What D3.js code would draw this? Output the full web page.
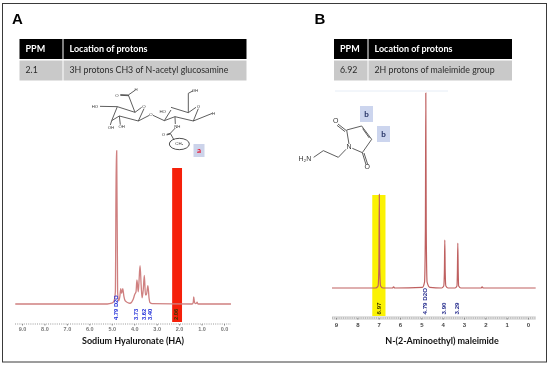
<!DOCTYPE html>
<html>
<head>
<meta charset="utf-8">
<script src="https://cdn.jsdelivr.net/npm/d3@7"></script>
<style>
  html, body { margin: 0; padding: 0; background: #fff; }
  svg { display: block; font-family: Lato, "Open Sans", sans-serif; filter: blur(0.3px); }
</style>
</head>
<body>
<div id="chart"></div>
<script>
// values
var hyaPpm = [9.3, 5.2, 5.0, 4.9, 4.84, 4.8, 4.78, 4.74, 4.7, 4.64, 4.6, 4.56, 4.51, 4.46, 4.4, 4.3, 4.19, 4.05, 3.97, 3.92, 3.88, 3.82, 3.79, 3.74, 3.69, 3.65, 3.6, 3.55, 3.5, 3.46, 3.39, 3.34, 3.3, 3.2, 1.42, 1.37, 1.35, 1.32, 1.27, 1.23, 1.2, 1.16, -0.31];
var hyaIntensity = [0, 0, 0.5, 2, 8, 100, 100, 8, 2, 5, 10, 7, 10, 5, 2, 1, 0.5, 3, 6.5, 8, 15.7, 8, 14, 25, 12, 4, 9, 18.7, 6, 6, 12, 4, 1, 0.3, 0, 1, 4.6, 1.5, 0.3, 0.5, 1.2, 0, 0];
var hyaTicks = [9, 8, 7, 6, 5, 4, 3, 2, 1, 0];
var hyaPeaks = ["4.79 D2O", "3.73", "3.62", "3.40"];
var hyaPeakPpm = [4.79, 3.91, 3.56, 3.28];

var malPpm = [9.19, 7.15, 7.03, 6.99, 6.97, 6.95, 6.91, 6.8, 6.35, 6.3, 6.25, 4.95, 4.85, 4.81, 4.79, 4.77, 4.73, 4.6, 4.05, 3.95, 3.92, 3.9, 3.88, 3.85, 3.75, 3.42, 3.33, 3.31, 3.29, 3.27, 3.25, 3.15, 2.2, 2.15, 2.1, -0.36];
var malIntensity = [0, 0, 1, 10, 48, 10, 1, 0, 0, 0.6, 0, 0.3, 3, 30, 100, 30, 3, 0.3, 0, 1, 8, 24.6, 8, 1, 0, 0, 1, 8, 23, 8, 1, 0, 0, 0.6, 0, 0];
var malTicks = [9, 8, 7, 6, 5, 4, 3, 2, 1, 0];
var malPeaks = ["6.97", "4.79 D2O", "3.90", "3.29"];
var malPeakPpm = [6.97, 4.82, 3.95, 3.35];

var tableHeader = ["PPM", "Location of protons"];
var rowA = ["2.1", "3H protons CH3 of N-acetyl glucosamine"];
var rowB = ["6.92", "2H protons of maleimide group"];

var width = 550;
var height = 366;

var svg = d3.select("#chart").append("svg")
  .attr("width", width)
  .attr("height", height);

svg.append("rect")
  .attr("x", 2.5).attr("y", 3.5)
  .attr("width", 544).attr("height", 358.5)
  .attr("fill", "#fff").attr("stroke", "#3a3a3a").attr("stroke-width", 1);

// panel letters
svg.append("text").attr("x", 12).attr("y", 24).text("A")
  .style("font-family", "Liberation Sans").style("font-weight", "bold").style("font-size", "15px");
svg.append("text").attr("x", 314.5).attr("y", 24).text("B")
  .style("font-family", "Liberation Sans").style("font-weight", "bold").style("font-size", "15px");

var drawTable = function (x0, split, x1, row) {
  var g = svg.append("g");
  g.selectAll("rect.head").data([[x0, split - 0.5], [split + 0.5, x1]]).enter().append("rect")
    .attr("class", "head")
    .attr("x", function (d) { return d[0]; })
    .attr("y", 39).attr("height", 20)
    .attr("width", function (d) { return d[1] - d[0]; })
    .attr("fill", "#000");
  g.selectAll("rect.cell").data([[x0, split - 0.5], [split + 0.5, x1]]).enter().append("rect")
    .attr("class", "cell")
    .attr("x", function (d) { return d[0]; })
    .attr("y", 60.5).attr("height", 20)
    .attr("width", function (d) { return d[1] - d[0]; })
    .attr("fill", "#c9c9c9");
  var textX = [x0 + 6, split + 6.5];
  g.selectAll("text.headText").data(tableHeader).enter().append("text")
    .attr("x", function (d, i) { return textX[i]; })
    .attr("y", 52)
    .attr("fill", "#fff")
    .style("font-weight", "bold").style("font-size", "9px")
    .text(function (d) { return d; });
  g.selectAll("text.rowText").data(row).enter().append("text")
    .attr("x", function (d, i) { return textX[i]; })
    .attr("y", 73)
    .attr("fill", "#2b2b2b")
    .style("font-size", "8.8px")
    .text(function (d) { return d; });
};
drawTable(19.5, 63, 246.5, rowA);
drawTable(334, 368, 512, rowB);

var drawSpectrum = function (opts) {
  var x = d3.scaleLinear().domain([9, 0]).range(opts.xRange);
  var y = d3.scaleLinear().domain([0, 100]).range([opts.baseline, opts.top]);

  // highlighted band behind the peak
  svg.append("rect")
    .attr("x", x(opts.band[0])).attr("width", x(opts.band[1]) - x(opts.band[0]))
    .attr("y", opts.bandTop).attr("height", opts.axisY - opts.bandTop - opts.bandGap)
    .attr("fill", opts.bandColor);

  var line = d3.line()
    .x(function (d) { return x(d[0]); })
    .y(function (d) { return y(d[1]); })
    .curve(d3.curveMonotoneX);
  svg.append("path")
    .datum(d3.zip(opts.ppm, opts.intensity))
    .attr("d", line)
    .attr("fill", "none")
    .attr("stroke", opts.lineColor)
    .attr("stroke-width", opts.lineWidth);

  // axis with the small minor ticks
  var axisG = svg.append("g").attr("transform", "translate(0," + opts.axisY + ")");
  if (opts.axisBand) {
    axisG.append("rect")
      .attr("x", opts.axisExtent[0]).attr("width", opts.axisExtent[1] - opts.axisExtent[0])
      .attr("y", -2).attr("height", 4).attr("fill", "#e2e2e2");
  }
  axisG.append("line")
    .attr("x1", opts.axisExtent[0]).attr("x2", opts.axisExtent[1])
    .attr("stroke", "#9a9a9a").attr("stroke-width", 1)
    .attr("stroke-dasharray", "1,1.2");
  var axis = d3.axisBottom(x)
    .tickValues(opts.ticks)
    .tickSize(1.5)
    .tickPadding(opts.tickPad)
    .tickFormat(d3.format(opts.tickFormat));
  var ag = axisG.append("g").call(axis);
  ag.select(".domain").remove();
  ag.selectAll("line").attr("stroke", "#888");
  ag.selectAll("text")
    .attr("fill", opts.tickColor)
    .style("font-family", "Liberation Sans")
    .style("font-weight", "bold")
    .style("font-size", opts.tickSize + "px");

  // peak labels, rotated
  svg.selectAll(null).data(opts.peaks).enter().append("text")
    .attr("transform", function (d, i) {
      return "translate(" + (x(opts.peakPpm[i]) + 2) + "," + opts.labelBottom + ") rotate(-90)";
    })
    .attr("fill", function (d, i) { return i === opts.darkLabel ? "#3a3300" : opts.labelColor; })
    .style("font-family", "Liberation Sans")
    .style("font-weight", "bold")
    .style("font-size", opts.labelSize + "px")
    .text(function (d) { return d; });

  svg.append("text")
    .attr("x", opts.titleX).attr("y", 344)
    .attr("text-anchor", "middle")
    .attr("fill", "#111")
    .style("font-weight", "bold").style("font-size", opts.titleSize + "px")
    .text(opts.title);

  return x;
};

var xA = drawSpectrum({
  xRange: [22, 224], baseline: 304, top: 151,
  ppm: hyaPpm, intensity: hyaIntensity, ticks: hyaTicks,
  peaks: hyaPeaks.concat(["2.06"]), peakPpm: hyaPeakPpm.concat([2.14]),
  band: [2.31, 1.87], bandTop: 168, bandGap: 2, bandColor: "#f5200a",
  lineColor: "#cf8080", lineWidth: 1.3,
  axisY: 324, axisExtent: [15, 231], axisBand: false,
  tickFormat: ".1f", tickColor: "#777", tickSize: 5.5, tickPad: 1.5,
  labelColor: "#1d2bd8", labelSize: 5.8, labelBottom: 320, darkLabel: 4,
  title: "Sodium Hyaluronate (HA)", titleX: 133, titleSize: 9
});

var xB = drawSpectrum({
  xRange: [336, 528], baseline: 288, top: 93,
  ppm: malPpm, intensity: malIntensity, ticks: malTicks,
  peaks: malPeaks, peakPpm: malPeakPpm,
  band: [7.3, 6.68], bandTop: 195, bandGap: -2, bandColor: "#fbf203",
  lineColor: "#bf6060", lineWidth: 1.2,
  axisY: 318, axisExtent: [332, 535.7], axisBand: true,
  tickFormat: "d", tickColor: "#444", tickSize: 6, tickPad: 3,
  labelColor: "#232a8c", labelSize: 6.2, labelBottom: 314.5, darkLabel: 0,
  title: "N-(2-Aminoethyl) maleimide", titleX: 442, titleSize: 9
});

// faint line above the spectrum in B
svg.append("line")
  .attr("x1", 335).attr("x2", 448).attr("y1", 91).attr("y2", 91)
  .attr("stroke", "#e6edf6").attr("stroke-width", 1);

// structure drawings: segment lists in zoomed local units, scaled by the group below
var sugarBonds = [
  [[45, 49], [97, 50]], [[97, 50], [150, 67]], [[150, 67], [170, 52]], [[177, 56], [160, 93]],
  [[160, 93], [103, 78]], [[103, 78], [80, 92]], [[80, 92], [97, 50]], [[150, 67], [130, 15]],
  [[130, 15], [106, 14]], [[130, 17], [106, 16]], [[130, 15], [150, 1]], [[80, 92], [76, 105]],
  [[103, 78], [106, 104]], [[160, 93], [193, 76]], [[204, 76], [238, 92]],
  [[238, 92], [258, 60]], [[258, 52], [310, 68]], [[310, 68], [333, 52]], [[340, 56], [325, 93]],
  [[325, 93], [270, 80]], [[270, 80], [238, 92]], [[310, 68], [310, 10]], [[310, 10], [325, 2]],
  [[325, 93], [382, 70]], [[270, 80], [271, 102]], [[271, 114], [256, 130]],
  [[245, 133], [256, 130]], [[245, 135], [256, 132]], [[256, 130], [266, 148]]
];
var sugarLabels = [
  ["HO", 30, 52], ["O", 96, 17], ["H", 153, 1], ["O", 177, 51], ["OH", 78, 113], ["OH", 110, 110],
  ["O", 198, 75], ["HO", 233, 65], ["O", 340, 50], ["OH", 330, 3], ["H", 386, 71], ["NH", 277, 112], ["O", 235, 136]
];
var imideBonds = [
  [[189, 372], [213, 391]], [[186, 376], [210, 395]], [[215, 390], [260, 378]], [[260, 378], [290, 418]],
  [[263, 386], [283, 414]], [[290, 418], [262, 458]], [[262, 458], [232, 445]], [[215, 390], [222, 432]],
  [[262, 458], [273, 494]], [[267, 459], [278, 493]], [[213, 448], [190, 472]], [[190, 472], [145, 452]],
  [[145, 452], [116, 472]]
];
var imideLabels = [
  ["O", 182, 365], ["N", 222, 442], ["O", 277, 503], ["H\u2082N", 90, 479]
];

var drawStructure = function (tx, ty, bonds, labels, fontSize) {
  var g = svg.append("g").attr("transform", "translate(" + tx + "," + ty + ") scale(0.3333)");
  g.selectAll("line").data(bonds).enter().append("line")
    .attr("x1", function (d) { return d[0][0]; })
    .attr("y1", function (d) { return d[0][1]; })
    .attr("x2", function (d) { return d[1][0]; })
    .attr("y2", function (d) { return d[1][1]; })
    .attr("stroke", "#444").attr("stroke-width", 2.6);
  g.selectAll("text").data(labels).enter().append("text")
    .attr("x", function (d) { return d[1]; })
    .attr("y", function (d) { return d[2]; })
    .attr("text-anchor", "middle").attr("dominant-baseline", "middle")
    .attr("fill", "#333")
    .style("font-family", "Liberation Sans")
    .style("font-size", fontSize + "px")
    .text(function (d) { return d[0]; });
  return g;
};

var sugar = drawStructure(85, 90, sugarBonds, sugarLabels, 13);
sugar.append("ellipse")
  .attr("cx", 283).attr("cy", 162).attr("rx", 30).attr("ry", 17)
  .attr("fill", "none").attr("stroke", "#333").attr("stroke-width", 2.6);
sugar.append("text")
  .attr("x", 283).attr("y", 163)
  .attr("text-anchor", "middle").attr("dominant-baseline", "middle")
  .attr("fill", "#333")
  .style("font-family", "Liberation Sans").style("font-size", "13px")
  .text("CH\u2083");
drawStructure(275, 0, imideBonds, imideLabels, 21);

// small tag boxes next to the structures
var tags = [
  ["a", 193.5, 144, 11, 13, "#ccd3ea", "#e8112d"],
  ["b", 360, 106, 13, 16, "#ccd5ee", "#1c2a5e"],
  ["b", 377, 126, 13, 16, "#ccd5ee", "#1c2a5e"]
];
var tag = svg.selectAll("g.tag").data(tags).enter().append("g").attr("class", "tag");
tag.append("rect")
  .attr("x", function (d) { return d[1]; })
  .attr("y", function (d) { return d[2]; })
  .attr("width", function (d) { return d[3]; })
  .attr("height", function (d) { return d[4]; })
  .attr("fill", function (d) { return d[5]; });
tag.append("text")
  .attr("x", function (d) { return d[1] + d[3] / 2; })
  .attr("y", function (d) { return d[2] + d[4] / 2 + 2.5; })
  .attr("text-anchor", "middle")
  .attr("fill", function (d) { return d[6]; })
  .style("font-weight", "bold").style("font-size", "8px")
  .text(function (d) { return d[0]; });
</script>
</body>
</html>
